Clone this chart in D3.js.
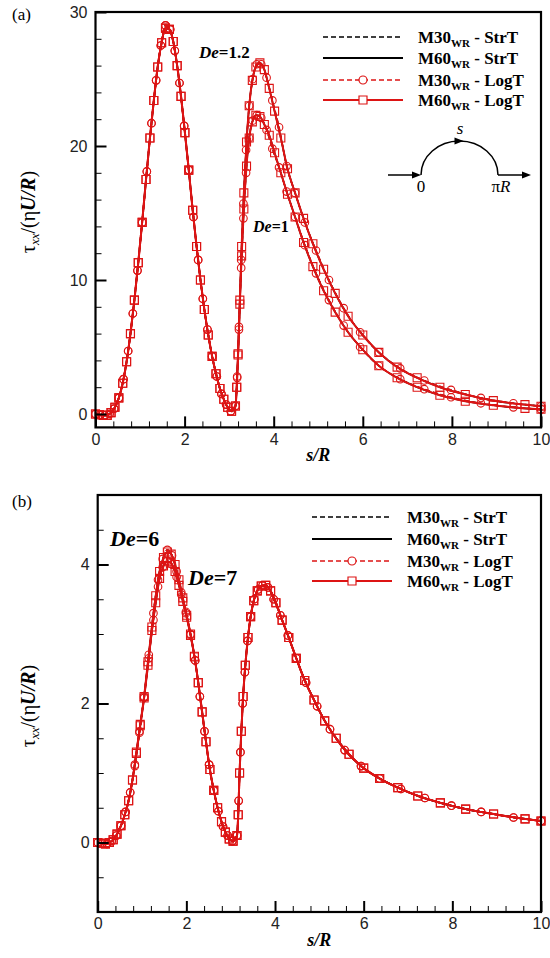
<!DOCTYPE html>
<html>
<head>
<meta charset="utf-8">
<script src="https://cdn.jsdelivr.net/npm/d3@7"></script>
<style>
body { margin: 0; background: #fff; }
svg { display: block; }
.tick text { font-family: "Liberation Sans", Arial, sans-serif; font-size: 16px; fill: #222; }
.serif { font-family: "Liberation Serif", "Times New Roman", serif; }
</style>
</head>
<body>
<svg id="chart" width="550" height="958"></svg>
<script>
// ---- Data ----
// node positions s/R: cylinder surface (0..pi) and wake (pi..10)
const sCylM60 = [0, 0.087, 0.175, 0.262, 0.349, 0.436, 0.524, 0.611, 0.698, 0.785, 0.873, 0.960, 1.047, 1.134, 1.222, 1.309, 1.396, 1.484, 1.571, 1.658, 1.745, 1.833, 1.920, 2.007, 2.094, 2.182, 2.269, 2.356, 2.443, 2.531, 2.618, 2.705, 2.793, 2.880, 2.967, 3.054, 3.142];
const sWakeM60 = [3.17, 3.20, 3.24, 3.28, 3.33, 3.39, 3.45, 3.52, 3.60, 3.69, 3.79, 3.90, 4.02, 4.16, 4.31, 4.48, 4.67, 4.88, 5.12, 5.38, 5.67, 6.00, 6.36, 6.77, 7.22, 7.73, 8.30, 8.93, 9.64, 10.0];
const sCylM30 = [0, 0.105, 0.209, 0.314, 0.419, 0.524, 0.628, 0.733, 0.838, 0.942, 1.047, 1.152, 1.257, 1.361, 1.466, 1.571, 1.676, 1.780, 1.885, 1.990, 2.094, 2.199, 2.304, 2.409, 2.513, 2.618, 2.723, 2.827, 2.932, 3.037, 3.142];
const sWakeM30 = [3.18, 3.22, 3.27, 3.32, 3.38, 3.45, 3.53, 3.62, 3.72, 3.84, 3.97, 4.12, 4.29, 4.48, 4.70, 4.95, 5.24, 5.57, 5.94, 6.36, 6.84, 7.38, 7.98, 8.65, 9.38, 10.0];

// panel (a): De = 1 and De = 1.2 coincide on the cylinder
const aCylM60 = [0, -0.05, -0.1, -0.1, 0.1, 0.5, 1.2, 2.3, 3.9, 6.0, 8.5, 11.3, 14.3, 17.5, 20.6, 23.4, 25.9, 27.7, 28.8, 28.7, 27.8, 26.0, 23.7, 21.0, 18.2, 15.2, 12.5, 10.0, 7.8, 5.9, 4.3, 3.0, 1.9, 1.1, 0.5, 0.2, 0.6];
const aCylM30 = [0, -0.05, -0.1, 0.0, 0.4, 1.2, 2.6, 4.7, 7.5, 10.7, 14.3, 18.1, 21.7, 24.9, 27.5, 29.0, 28.7, 27.1, 24.7, 21.5, 18.2, 14.7, 11.5, 8.6, 6.3, 4.3, 2.8, 1.5, 0.7, 0.2, 0.6];
const aWakeDe12M60 = [2.0, 4.5, 8.5, 12.5, 16.5, 20.3, 23.0, 24.9, 25.9, 26.2, 25.7, 24.3, 22.6, 20.6, 18.3, 16.5, 14.6, 12.7, 10.8, 9.0, 7.3, 5.9, 4.6, 3.5, 2.7, 2.0, 1.45, 1.0, 0.7, 0.58];
const aWakeDe12M30 = [2.8, 6.5, 11.5, 15.7, 19.7, 23.0, 25.0, 26.1, 26.1, 25.1, 23.4, 21.4, 18.5, 16.5, 14.3, 12.2, 10.0, 7.9, 6.1, 4.6, 3.4, 2.5, 1.8, 1.2, 0.8, 0.58];
const aWakeDe1M60 = [2.0, 4.4, 8.2, 11.8, 15.3, 18.5, 20.6, 21.8, 22.3, 22.2, 21.6, 20.8, 19.5, 18.0, 16.4, 14.7, 12.8, 11.0, 9.2, 7.6, 6.1, 4.8, 3.6, 2.7, 2.0, 1.4, 0.95, 0.65, 0.42, 0.35];
const aWakeDe1M30 = [2.7, 6.3, 10.9, 14.6, 18.0, 20.6, 21.9, 22.3, 22.1, 21.2, 19.8, 18.4, 16.6, 14.7, 12.6, 10.5, 8.5, 6.6, 5.0, 3.6, 2.6, 1.85, 1.25, 0.8, 0.5, 0.35];

// panel (b): De = 6 and De = 7 coincide in the wake
const bCylDe6M60 = [0, -0.01, -0.02, 0.0, 0.04, 0.12, 0.24, 0.4, 0.6, 0.9, 1.3, 1.7, 2.1, 2.6, 3.1, 3.55, 3.9, 4.1, 4.18, 4.15, 4.0, 3.78, 3.52, 3.27, 3.0, 2.68, 2.3, 1.88, 1.45, 1.05, 0.75, 0.5, 0.3, 0.15, 0.05, 0.02, 0.1];
const bCylDe7M60 = [0, -0.01, -0.02, 0.0, 0.04, 0.12, 0.24, 0.4, 0.6, 0.9, 1.28, 1.68, 2.08, 2.55, 3.05, 3.45, 3.8, 3.98, 4.04, 4.02, 3.9, 3.7, 3.47, 3.24, 2.98, 2.67, 2.3, 1.88, 1.45, 1.05, 0.75, 0.5, 0.3, 0.15, 0.05, 0.02, 0.1];
const bCylDe6M30 = [0, -0.01, -0.02, 0.02, 0.1, 0.24, 0.44, 0.72, 1.12, 1.6, 2.1, 2.7, 3.3, 3.78, 4.08, 4.21, 4.13, 3.9, 3.6, 3.32, 3.0, 2.62, 2.1, 1.6, 1.12, 0.75, 0.45, 0.23, 0.1, 0.02, 0.1];
const bCylDe7M30 = [0, -0.01, -0.02, 0.02, 0.1, 0.24, 0.44, 0.72, 1.1, 1.58, 2.08, 2.65, 3.2, 3.68, 3.96, 4.05, 4.0, 3.82, 3.57, 3.3, 2.99, 2.62, 2.1, 1.6, 1.12, 0.75, 0.45, 0.23, 0.1, 0.02, 0.1];
const bWakeM60 = [0.4, 1.0, 1.6, 2.1, 2.55, 2.95, 3.25, 3.48, 3.62, 3.69, 3.70, 3.62, 3.45, 3.2, 2.95, 2.65, 2.33, 2.05, 1.75, 1.5, 1.27, 1.07, 0.92, 0.79, 0.67, 0.57, 0.48, 0.41, 0.34, 0.31];
const bWakeM30 = [0.6, 1.3, 2.0, 2.45, 2.9, 3.25, 3.5, 3.64, 3.70, 3.67, 3.5, 3.27, 2.98, 2.65, 2.3, 1.96, 1.63, 1.33, 1.1, 0.92, 0.77, 0.64, 0.53, 0.44, 0.36, 0.31];

// ticks
const xTicks = [0, 2, 4, 6, 8, 10];
const yTicksA = [0, 10, 20, 30];
const yTicksB = [0, 2, 4];

const legendRows = [
    { mesh: 'M30', method: 'StrT' },
    { mesh: 'M60', method: 'StrT' },
    { mesh: 'M30', method: 'LogT' },
    { mesh: 'M60', method: 'LogT' }
];

const RED = '#dd1414';

// ---- Helpers ----
const zip = (xs, ys) => xs.map((s, i) => [s, ys[i]]);
const m60 = (cyl, wake) => zip(sCylM60.concat(sWakeM60), cyl.concat(wake));
const m30 = (cyl, wake) => zip(sCylM30.concat(sWakeM30), cyl.concat(wake));

const svg = d3.select('#chart');

const panels = [
    {
        tag: '(a)', tagY: 20,
        left: 95.5, right: 541, top: 12, bottom: 427.4,
        yDomain: [-1, 30], yTicks: yTicksA, yMinor: d3.range(2, 30, 2).filter(v => v % 10 !== 0),
        labelY: 212,
        curves: [
            { m30: m30(aCylM30, aWakeDe12M30), m60: m60(aCylM60, aWakeDe12M60) },
            { m30: m30(aCylM30, aWakeDe1M30), m60: m60(aCylM60, aWakeDe1M60) }
        ],
        legend: { x1: 323, x2: 403, tx: 418, ys: [37, 58, 80, 100] }
    },
    {
        tag: '(b)', tagY: 507,
        left: 97.7, right: 541, top: 495, bottom: 912,
        yDomain: [-1, 5], yTicks: yTicksB, yMinor: [-0.5, 0.5, 1, 1.5, 2.5, 3, 3.5, 4.5],
        labelY: 706,
        curves: [
            { m30: m30(bCylDe6M30, bWakeM30), m60: m60(bCylDe6M60, bWakeM60) },
            { m30: m30(bCylDe7M30, bWakeM30), m60: m60(bCylDe7M60, bWakeM60) }
        ],
        legend: { x1: 312, x2: 392, tx: 407, ys: [517, 539, 561, 581] }
    }
];

function squarePath(cx, cy, h) {
    return `M${cx - h},${cy - h}h${2 * h}v${2 * h}h${-2 * h}Z`;
}

function drawPanel(p, idx) {
    const g = svg.append('g');
    const x = d3.scaleLinear().domain([0, 10]).range([p.left, p.right]);
    const y = d3.scaleLinear().domain(p.yDomain).range([p.bottom, p.top]);

    const clipId = 'clip' + idx;
    g.append('clipPath').attr('id', clipId)
        .append('rect')
        .attr('x', p.left).attr('y', p.top)
        .attr('width', p.right - p.left).attr('height', p.bottom - p.top);

    const line = d3.line()
        .x(d => x(d[0]))
        .y(d => y(d[1]))
        .curve(d3.curveMonotoneX);

    const plot = g.append('g').attr('clip-path', `url(#${clipId})`);

    // StrT (black) underneath
    p.curves.forEach(c => {
        plot.append('path').attr('d', line(c.m30))
            .attr('fill', 'none').attr('stroke', '#000').attr('stroke-width', 1.3)
            .attr('stroke-dasharray', '5,3');
        plot.append('path').attr('d', line(c.m60))
            .attr('fill', 'none').attr('stroke', '#000').attr('stroke-width', 1.6);
    });

    // LogT (red) on top
    p.curves.forEach(c => {
        plot.append('path').attr('d', line(c.m30))
            .attr('fill', 'none').attr('stroke', RED).attr('stroke-width', 1.6)
            .attr('stroke-dasharray', '5,3');
        plot.append('path').attr('d', line(c.m60))
            .attr('fill', 'none').attr('stroke', RED).attr('stroke-width', 2);
    });

    const marks = g.append('g').attr('fill', 'none').attr('stroke', RED).attr('stroke-width', 1.1);
    p.curves.forEach(c => {
        marks.selectAll(null).data(c.m30).enter()
            .append('circle')
            .attr('cx', d => x(d[0])).attr('cy', d => y(d[1])).attr('r', 3.8);
        marks.selectAll(null).data(c.m60).enter()
            .append('path')
            .attr('d', d => squarePath(x(d[0]), y(d[1]), 4));
    });

    // axes (ticks point inward)
    const noDomain = a => a.select('.domain').remove();
    g.append('g').attr('transform', `translate(${p.left},0)`)
        .call(d3.axisLeft(y).tickValues(p.yMinor).tickSize(-6).tickFormat(''))
        .call(noDomain);
    g.append('g').attr('transform', `translate(${p.left},0)`)
        .call(d3.axisLeft(y).tickValues(p.yTicks).tickSize(-11).tickPadding(8).tickFormat(d3.format('d')))
        .call(noDomain)
        .call(a => a.selectAll('.tick line').attr('stroke-width', 2));

    const xMinor = d3.range(0.4, 10, 0.4).filter(v => Math.abs(v / 2 - Math.round(v / 2)) > 0.01);
    g.append('g').attr('transform', `translate(0,${p.bottom})`)
        .call(d3.axisBottom(x).tickValues(xMinor).tickSize(-6).tickFormat(''))
        .call(noDomain);
    g.append('g').attr('transform', `translate(0,${p.bottom})`)
        .call(d3.axisBottom(x).tickValues(xTicks).tickSize(-11).tickPadding(6).tickFormat(d3.format('d')))
        .call(noDomain)
        .call(a => a.selectAll('.tick line').attr('stroke-width', 2));

    g.append('rect')
        .attr('x', p.left).attr('y', p.top)
        .attr('width', p.right - p.left).attr('height', p.bottom - p.top)
        .attr('fill', 'none').attr('stroke', '#000').attr('stroke-width', 2.2);

    // axis titles
    g.append('text').attr('class', 'serif')
        .attr('x', (p.left + p.right) / 2).attr('y', p.bottom + 34)
        .attr('text-anchor', 'middle')
        .style('font-size', '18px').style('font-weight', 'bold').style('font-style', 'italic')
        .text('s/R');

    const yl = g.append('text').attr('class', 'serif')
        .attr('transform', `translate(35,${p.labelY}) rotate(-90)`)
        .attr('text-anchor', 'middle')
        .style('font-size', '20px');
    yl.append('tspan').text('τ');
    yl.append('tspan').attr('dy', 4).style('font-size', '13px').style('font-style', 'italic').text('xx');
    yl.append('tspan').attr('dy', -4).text('/(η');
    yl.append('tspan').style('font-weight', 'bold').style('font-style', 'italic').text('U/R');
    yl.append('tspan').text(')');

    g.append('text').attr('class', 'serif')
        .attr('x', 12).attr('y', p.tagY)
        .style('font-size', '17px')
        .text(p.tag);

    // legend
    const L = p.legend;
    legendRows.forEach((r, i) => {
        const ly = L.ys[i];
        const color = r.method === 'LogT' ? RED : '#000';
        const dashed = r.mesh === 'M30';
        g.append('line')
            .attr('x1', L.x1).attr('x2', L.x2).attr('y1', ly).attr('y2', ly)
            .attr('stroke', color).attr('stroke-width', dashed ? 1.4 : 1.8)
            .attr('stroke-dasharray', dashed ? '5,3' : null);
        const cx = (L.x1 + L.x2) / 2;
        if (r.method === 'LogT') {
            if (dashed) {
                g.append('circle').attr('cx', cx).attr('cy', ly).attr('r', 4)
                    .attr('fill', '#fff').attr('stroke', RED).attr('stroke-width', 1.2);
            } else {
                g.append('path').attr('d', squarePath(cx, ly, 4))
                    .attr('fill', '#fff').attr('stroke', RED).attr('stroke-width', 1.2);
            }
        }
        const t = g.append('text').attr('class', 'serif')
            .attr('x', L.tx).attr('y', ly + 6)
            .style('font-size', '17px').style('font-weight', 'bold');
        t.append('tspan').text(r.mesh);
        t.append('tspan').attr('dy', 4).style('font-size', '11px').text('WR');
        t.append('tspan').attr('dy', -4).text(' - ' + r.method);
    });

    return { x, y, g };
}

const pa = drawPanel(panels[0], 0);
const pb = drawPanel(panels[1], 1);

function deLabel(g, x, y, size, val) {
    const t = g.append('text').attr('class', 'serif')
        .attr('x', x).attr('y', y)
        .style('font-size', size + 'px').style('font-weight', 'bold');
    t.append('tspan').style('font-style', 'italic').text('De');
    t.append('tspan').text('=' + val);
}

deLabel(pa.g, 199, 58, 17, '1.2');
deLabel(pa.g, 253, 232, 16, '1');
deLabel(pb.g, 110, 546, 22, '6');
deLabel(pb.g, 188, 585, 22, '7');

// schematic of the flow path around the cylinder (panel a)
(function () {
    const g = pa.g.append('g').attr('stroke', '#000').attr('fill', 'none').attr('stroke-width', 1.5);
    const cy = 175, xl = 421, xr = 498;
    const head = (x, y) => pa.g.append('path')
        .attr('d', `M${x},${y}l-9,-3.5l0,7Z`).attr('fill', '#000');
    g.append('line').attr('x1', 388).attr('x2', xl - 4).attr('y1', cy).attr('y2', cy);
    head(xl, cy);
    g.append('path').attr('d', `M${xl},${cy}A${(xr - xl) / 2},34 0 0 1 ${xr},${cy}`);
    head((xl + xr) / 2 + 4, cy - 34);
    g.append('line').attr('x1', xr).attr('x2', 527).attr('y1', cy).attr('y2', cy);
    head(531, cy);

    const lab = (x, y, txt, italic) => pa.g.append('text').attr('class', 'serif')
        .attr('x', x).attr('y', y).attr('text-anchor', 'middle')
        .style('font-size', '17px').style('font-style', italic ? 'italic' : 'normal')
        .text(txt);
    lab(460, 134, 's', true);
    lab(421, 192, '0', false);
    const pr = pa.g.append('text').attr('class', 'serif')
        .attr('x', 501).attr('y', 192).attr('text-anchor', 'middle')
        .style('font-size', '17px');
    pr.append('tspan').text('π');
    pr.append('tspan').style('font-style', 'italic').text('R');
})();
</script>
</body>
</html>
